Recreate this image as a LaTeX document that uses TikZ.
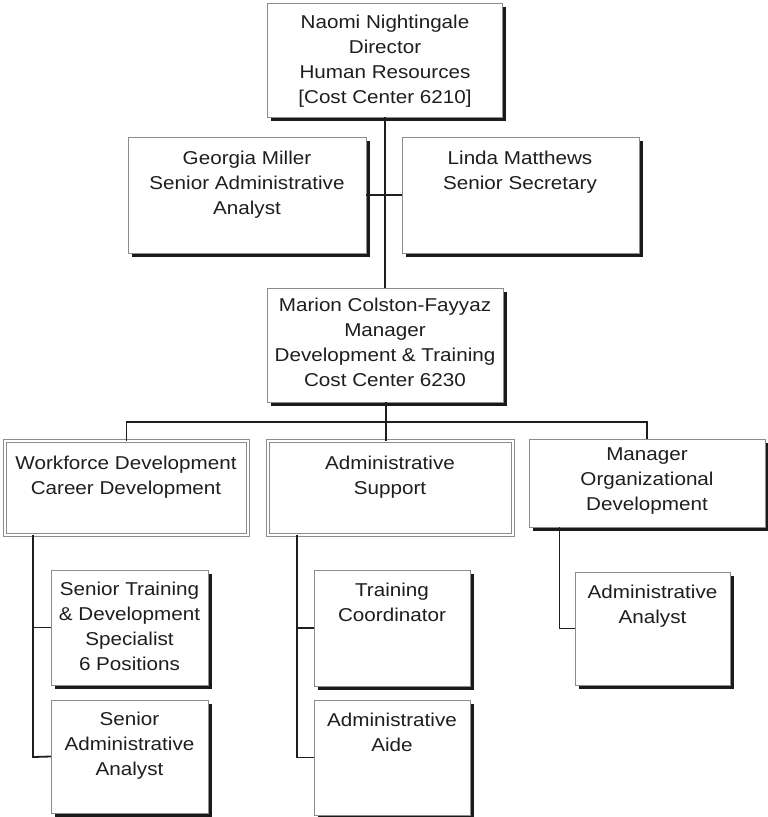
\documentclass[tikz,border=0pt]{standalone}
\usepackage{fontspec}
\setmainfont{Liberation Sans}[FakeStretch=1.11]
\usetikzlibrary{shadows}
\definecolor{ink}{HTML}{1E1E1E}
\definecolor{rim}{HTML}{8C8C8C}
\definecolor{shade}{HTML}{1A1A1A}
\tikzset{
  box/.style={draw=rim, line width=0.7pt, fill=white, inner sep=0pt, outer sep=0pt,
    drop shadow={shadow xshift=3.8pt, shadow yshift=-3.8pt, opacity=1, fill=shade}},
  dbox/.style={draw=rim, line width=0.8pt, double=white, double distance=2.6pt, fill=white,
    inner sep=0pt, outer sep=0pt},
  txt/.style={anchor=north, align=center, inner sep=0pt, text=ink,
    font=\fontsize{18.6}{25}\selectfont},
  link/.style={draw=ink, line width=1.8pt}
}
\newcommand{\boxat}[6]{% style, name, x1, y1, x2, y2
  \node[#1, minimum width={(#5-#3)*1pt}, minimum height={(#6-#4)*1pt}] (#2) at ({(#3+#5)/2},{(#4+#6)/2}) {};}
\begin{document}
\begin{tikzpicture}[x=1pt,y=-1pt]
\useasboundingbox (0,0) rectangle (768,817);
\coordinate (busL) at (126,421.7);
\coordinate (busR) at (647,421.7);
\coordinate (wfL) at (33,757);
\coordinate (asL) at (297,757.5);
\coordinate (moL) at (559.5,628.5);

% boxes
\boxat{box}{top}{267}{3}{502}{117}
\boxat{box}{georgia}{128}{137}{366}{253}
\boxat{box}{linda}{402}{137}{639}{253}
\boxat{box}{marion}{267}{288}{503}{402}
\boxat{dbox}{workforce}{5}{441}{248}{535}
\boxat{dbox}{adminsup}{268}{441}{513}{535}
\boxat{box}{manager}{529}{439}{765}{527}
\boxat{box}{srtrain}{51}{570}{208}{685}
\boxat{box}{sradmin}{51}{700}{208}{813}
\boxat{box}{traincoord}{314}{570}{470}{686}
\boxat{box}{adminaide}{314}{700}{470}{815}
\boxat{box}{adminanalyst}{575}{572}{730}{685}

% connectors
\draw[link] (top.south -| 385,0) -- (marion.north -| 385,0);
\draw[link] (georgia.east) -- (linda.west);
\draw[link] (marion.south -| 386,0) -- (adminsup.north -| 386,0);
\draw[link] (workforce.north) |- (busL) -- (busR) -| (manager.north);
\draw[link] (workforce.south -| 33,0) -- (wfL) -- (sradmin.west);
\draw[link] (srtrain.west) -- (srtrain.west -| 33,0);
\draw[link] (adminsup.south -| 297,0) -- (asL) -- (adminaide.west);
\draw[link] (traincoord.west) -- (traincoord.west -| 297,0);
\draw[link] (manager.south -| 559.5,0) -- (moL) -- (adminanalyst.west);

% texts
\node[txt] (topT) at (385,15) {Naomi Nightingale\\Director\\Human Resources\\[0pt][Cost Center 6210]};
\node[txt] (georgiaT) at (247,151) {Georgia Miller\\Senior Administrative\\Analyst};
\node[txt] (lindaT) at (520,151) {Linda Matthews\\Senior Secretary};
\node[txt] (marionT) at (385,298) {Marion Colston-Fayyaz\\Manager\\Development \& Training\\Cost Center 6230};
\node[txt] (workforceT) at (126,455.5) {Workforce Development\\Career Development};
\node[txt] (adminsupT) at (390,455.5) {Administrative\\Support};
\node[txt] (managerT) at (647,447) {Manager\\Organizational\\Development};
\node[txt] (srtrainT) at (129.5,582) {Senior Training\\\& Development\\Specialist\\6 Positions};
\node[txt] (sradminT) at (129.5,711.5) {Senior\\Administrative\\Analyst};
\node[txt] (traincoordT) at (392,583) {Training\\Coordinator};
\node[txt] (adminaideT) at (392,713) {Administrative\\Aide};
\node[txt] (adminanalystT) at (652.5,585) {Administrative\\Analyst};
\end{tikzpicture}
\end{document}
